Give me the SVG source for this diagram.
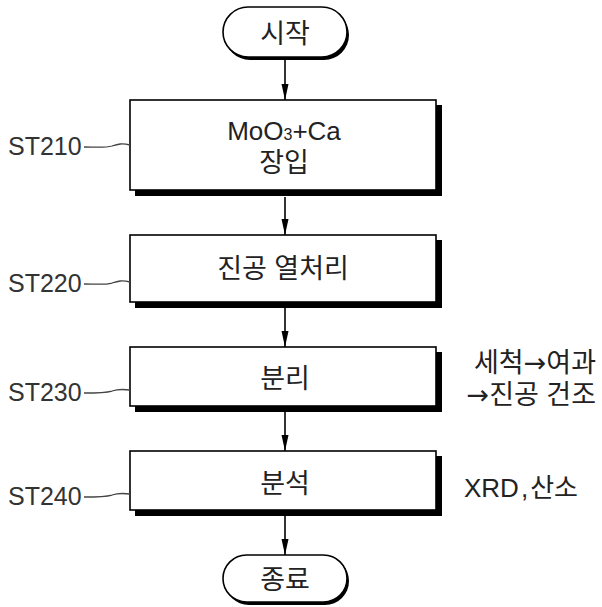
<svg xmlns="http://www.w3.org/2000/svg" width="602" height="607" viewBox="0 0 602 607">
<defs>
<style>
.t{font-family:"Liberation Sans","Noto Sans CJK KR",sans-serif;fill:#222;}
.k{font-size:27px;}
.lbl{font-size:25px;fill:#333;}
.ar{font-family:"DejaVu Sans",sans-serif;}
.box{fill:#fff;stroke:#000;stroke-width:1.6;}
.sh{fill:#000;}
.lead{fill:none;stroke:#444;stroke-width:1.3;}
.con{stroke:#000;stroke-width:1.6;fill:none;}
</style>
<marker id="ah" markerUnits="userSpaceOnUse" markerWidth="16" markerHeight="10" viewBox="0 0 16 10" refX="16" refY="5" orient="auto">
<path d="M0,1.5 L16,5 L0,8.5 Z" fill="#000"/>
</marker>
</defs>
<g id="connectors">
<line class="con" x1="285" y1="58" x2="285" y2="100" marker-end="url(#ah)"/>
<line class="con" x1="285" y1="197" x2="285" y2="235" marker-end="url(#ah)"/>
<line class="con" x1="285" y1="308" x2="285" y2="347" marker-end="url(#ah)"/>
<line class="con" x1="285" y1="412" x2="285" y2="451" marker-end="url(#ah)"/>
<line class="con" x1="285" y1="516" x2="285" y2="555" marker-end="url(#ah)"/>
</g>
<g id="start">
<rect class="sh" x="225" y="10" width="124" height="50" rx="25"/>
<rect class="box" x="223" y="7" width="124" height="50" rx="25"/>
<text class="t k" x="285" y="43" text-anchor="middle">시작</text>
</g>
<g id="st210">
<rect class="sh" x="135" y="105" width="307" height="91"/>
<rect class="box" x="130" y="100" width="306" height="90"/>
<text class="t" x="284" y="140" font-size="26" text-anchor="middle">MoO<tspan font-size="16">3</tspan>+Ca</text>
<text class="t k" x="284" y="172" text-anchor="middle">장입</text>
<text class="t lbl" x="8" y="155">ST210</text>
<path class="lead" d="M84,147 C95,147 105,148 112,146 C118,144 122,143 130,145"/>
</g>
<g id="st220">
<rect class="sh" x="135" y="240" width="307" height="68"/>
<rect class="box" x="130" y="235" width="306" height="67"/>
<text class="t k" x="283" y="278" text-anchor="middle">진공 열처리</text>
<text class="t lbl" x="8" y="292">ST220</text>
<path class="lead" d="M84,284 C95,284 105,285 112,283 C118,281 122,280 130,282"/>
</g>
<g id="st230">
<rect class="sh" x="135" y="352" width="307" height="60"/>
<rect class="box" x="130" y="347" width="306" height="59"/>
<text class="t k" x="285" y="388" text-anchor="middle">분리</text>
<text class="t lbl" x="8" y="401">ST230</text>
<path class="lead" d="M84,393 C95,393 105,393 112,391 C118,389 122,389 130,390"/>
<text class="t" x="596" y="372" font-size="27" text-anchor="end">세척<tspan class="ar">→</tspan>여과</text>
<text class="t" x="596" y="404" font-size="27" text-anchor="end"><tspan class="ar">→</tspan>진공 건조</text>
</g>
<g id="st240">
<rect class="sh" x="135" y="456" width="307" height="60"/>
<rect class="box" x="130" y="451" width="306" height="59"/>
<text class="t k" x="285" y="493" text-anchor="middle">분석</text>
<text class="t lbl" x="8" y="505">ST240</text>
<path class="lead" d="M84,497 C95,497 105,497 112,495 C118,493 122,493 130,494"/>
<text class="t" x="464" y="497" font-size="26">XRD<tspan dx="2">,</tspan><tspan dx="2">산소</tspan></text>
</g>
<g id="end">
<rect class="sh" x="225" y="557" width="124" height="48" rx="24"/>
<rect class="box" x="223" y="555" width="124" height="47" rx="23.5"/>
<text class="t k" x="285" y="589" text-anchor="middle">종료</text>
</g>
</svg>
